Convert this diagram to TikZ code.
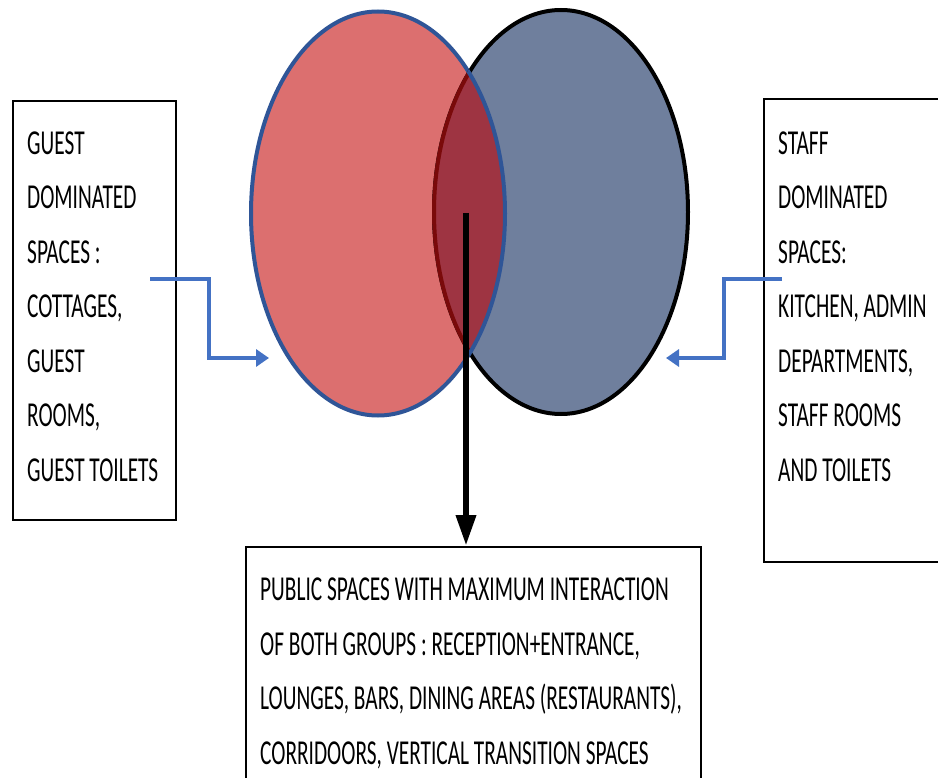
\documentclass[tikz,border=0pt]{standalone}
\usepackage{fontspec}
\newfontfamily\condfont[FakeStretch=0.61]{Carlito}
\usetikzlibrary{arrows.meta}
\definecolor{guestfill}{HTML}{DC6F6F}
\definecolor{stafffill}{HTML}{6F7F9D}
\definecolor{bothfill}{HTML}{9E3442}
\definecolor{darkredline}{HTML}{7A0A0A}
\definecolor{ringblue}{HTML}{2F5597}
\definecolor{linkblue}{HTML}{4472C4}
\tikzset{
  box/.style={draw=black, line width=1.8pt, inner sep=0pt, fill=white},
  boxtext/.style={anchor=base west, inner sep=0pt, align=left,
    font=\condfont\fontsize{35}{54.5}\selectfont},
  link/.style={draw=linkblue, line width=3.4pt,
    -{Triangle[length=13pt,width=17pt]}},
  mainarrow/.style={draw=black, line width=6.5pt,
    -{Triangle[length=31pt,width=19pt]}}
}
\begin{document}
\begin{tikzpicture}[x=1pt,y=-1pt]
\useasboundingbox (0,0) rectangle (938,778);
\fill[white] (0,0) rectangle (938,778);
% ellipses
\draw[fill=guestfill, draw=ringblue, line width=4pt] (378,213.5) ellipse [x radius=127, y radius=202];
\draw[fill=stafffill, draw=black, line width=4pt] (561,212) ellipse [x radius=127, y radius=202];
\begin{scope}
  \clip (378,213.5) ellipse [x radius=127, y radius=202];
  \draw[fill=bothfill, draw=darkredline, line width=4pt] (561,212) ellipse [x radius=127, y radius=202];
\end{scope}
\begin{scope}
  \clip (561,212) ellipse [x radius=129, y radius=204];
  \draw[draw=ringblue, line width=4pt] (378,213.5) ellipse [x radius=127, y radius=202];
\end{scope}
\coordinate (both) at (466,213);
\coordinate (guestin) at (269,358);
\coordinate (staffin) at (666,358);
% boxes
\node[box, minimum width=163, minimum height=419, anchor=north west] (gbox) at (12,100) {};
\node[box, minimum width=190, minimum height=463, anchor=north west] (sbox) at (763,98) {};
\node[box, minimum width=455, minimum height=260, anchor=north west] (pbox) at (245,546) {};
\node[boxtext] (gtext) at (27,481) {GUEST\\DOMINATED\\SPACES :\\COTTAGES,\\GUEST\\ROOMS,\\GUEST TOILETS};
\node[boxtext] (stext) at (778,481) {STAFF\\DOMINATED\\SPACES:\\KITCHEN, ADMIN\\DEPARTMENTS,\\STAFF ROOMS\\AND TOILETS};
\node[boxtext] (ptext) at (260,764) {PUBLIC SPACES WITH MAXIMUM INTERACTION\\OF BOTH GROUPS : RECEPTION+ENTRANCE,\\LOUNGES, BARS, DINING AREAS (RESTAURANTS),\\CORRIDOORS, VERTICAL TRANSITION SPACES};
% connectors
\coordinate (gstart) at (150,279);
\coordinate (sstart) at (782,279);
\draw[link] (gstart) -- (209,279) -- (209,358) -- (guestin);
\draw[link] (sstart) -- (724,279) -- (724,358) -- (staffin);
\draw[mainarrow] (both) -- (both |- pbox.north);
\end{tikzpicture}
\end{document}
